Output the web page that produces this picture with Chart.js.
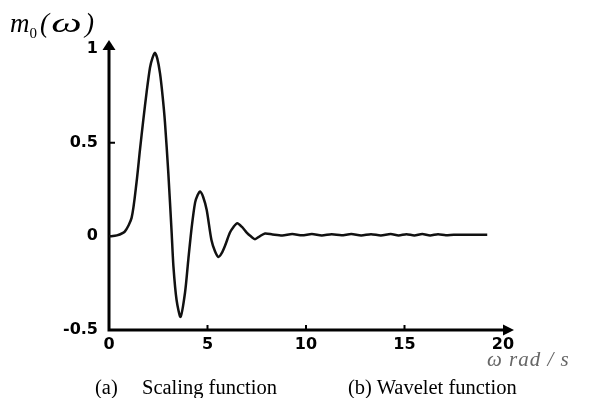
<!DOCTYPE html>
<html>
<head>
<meta charset="utf-8">
<script src="https://cdn.jsdelivr.net/npm/chart.js@4"></script>
<style>
  html, body { margin: 0; padding: 0; background: #fff; overflow: hidden; }
  #wrap { position: relative; width: 600px; height: 398px; overflow: hidden; }
  .lbl { position: absolute; white-space: nowrap; font-family: "Liberation Serif", "Times New Roman", serif; color: #000; }
  #ylab { left: 10px; top: 8px; font-size: 27px; font-style: italic; }
  #ylab sub { font-size: 15px; font-style: normal; margin-right: 3px; }
  #ylab .w { display: inline-block; transform: scaleX(1.6); margin: 0 9px 0 8px; }
  #xlab { left: 487px; top: 347px; font-size: 21px; font-style: italic; color: #666; letter-spacing: 1px; }
  .cap { top: 376px; font-size: 20.5px; }
</style>
</head>
<body>
<div id="wrap">
  <canvas id="waveChart"></canvas>
  <div class="lbl" id="ylab">m<sub>0</sub>(<span class="w">ω</span>)</div>
  <div class="lbl" id="xlab">ω rad / s</div>
  <div class="lbl cap" style="left:95px">(a)</div>
  <div class="lbl cap" style="left:142px">Scaling function</div>
  <div class="lbl cap" style="left:348px">(b) Wavelet function</div>
</div>
<script>
// values
const omega = [0, 0.4, 0.8, 1.15, 1.4, 1.57, 1.74, 1.91, 2.08, 2.2, 2.33, 2.45, 2.59, 2.72, 2.84, 3.01,
  3.18, 3.27, 3.43, 3.63, 3.86, 4.03, 4.2, 4.37, 4.5, 4.62, 4.78, 4.96, 5.2, 5.38, 5.55, 5.72, 5.89,
  6.14, 6.32, 6.51, 6.75, 6.99, 7.2, 7.41, 7.65, 7.92, 8.3, 8.8, 9.3, 9.8, 10.3, 10.8, 11.3, 11.8,
  12.3, 12.8, 13.3, 13.8, 14.3, 14.7, 15.1, 15.5, 15.9, 16.3, 16.7, 17.1, 17.5, 18.0, 18.6, 19.2];
const m0 = [0, 0.005, 0.025, 0.1, 0.29, 0.46, 0.62, 0.77, 0.9, 0.95, 0.98, 0.95, 0.87, 0.75, 0.61, 0.34,
  0.02, -0.16, -0.34, -0.43, -0.3, -0.12, 0.05, 0.18, 0.22, 0.24, 0.21, 0.14, -0.02, -0.08, -0.11, -0.09, -0.05,
  0.02, 0.05, 0.07, 0.05, 0.02, 0.0, -0.015, 0.0, 0.015, 0.01, 0.005, 0.012, 0.006, 0.012, 0.005, 0.011, 0.006,
  0.012, 0.005, 0.011, 0.005, 0.012, 0.005, 0.011, 0.005, 0.012, 0.005, 0.011, 0.006, 0.009, 0.008, 0.008, 0.008];
const xTicks = [0, 5, 10, 15, 20];
const yTicks = [-0.5, 0, 0.5, 1];

const points = omega.map((w, i) => ({ x: w, y: m0[i] }));

// axes drawn by hand so they can carry arrow heads
const arrowAxes = {
  id: "arrowAxes",
  beforeDatasetsDraw(chart) {
    const c = chart.ctx;
    const xs = chart.scales.x, ys = chart.scales.y;
    const x0 = xs.getPixelForValue(0);
    const yb = ys.getPixelForValue(-0.5);
    c.save();
    c.strokeStyle = "#000";
    c.fillStyle = "#000";
    c.lineWidth = 3;
    c.beginPath();
    c.moveTo(x0, yb + 1.5);
    c.lineTo(x0, 46);
    c.moveTo(x0 - 1.5, yb);
    c.lineTo(506, yb);
    c.stroke();
    // arrow heads
    c.beginPath();
    c.moveTo(x0, 40);
    c.lineTo(x0 - 6.5, 50);
    c.lineTo(x0 + 6.5, 50);
    c.closePath();
    c.fill();
    c.beginPath();
    c.moveTo(514, yb);
    c.lineTo(503, yb - 5.5);
    c.lineTo(503, yb + 5.5);
    c.closePath();
    c.fill();
    // small tick marks
    c.lineWidth = 2;
    c.beginPath();
    [5, 10, 15].forEach((v) => {
      const px = xs.getPixelForValue(v);
      c.moveTo(px, yb);
      c.lineTo(px, yb - 5);
    });
    const py = ys.getPixelForValue(0.5);
    c.moveTo(x0, py);
    c.lineTo(x0 + 6, py);
    c.stroke();
    c.restore();
  },
};

const tickFont = { family: "DejaVu Sans", size: 16, weight: "bold" };

new Chart(document.getElementById("waveChart"), {
  type: "line",
  data: {
    datasets: [
      {
        data: points,
        borderColor: "#111",
        borderWidth: 2.5,
        pointRadius: 0,
        tension: 0.25,
        fill: false,
      },
    ],
  },
  options: {
    responsive: true,
    maintainAspectRatio: false,
    animation: false,
    layout: { padding: { left: 0, top: 49, right: 97, bottom: 0 } },
    plugins: { legend: { display: false }, tooltip: { enabled: false } },
    scales: {
      x: {
        type: "linear",
        min: 0,
        max: 20,
        afterFit: (s) => { s.height = 68; },
        afterBuildTicks: (s) => { s.ticks = xTicks.map((v) => ({ value: v })); },
        grid: { display: false, drawTicks: false },
        border: { display: false },
        ticks: { color: "#000", font: tickFont, padding: 5, maxRotation: 0, callback: (v) => String(v) },
      },
      y: {
        min: -0.5,
        max: 1,
        afterFit: (s) => { s.width = 109; },
        afterBuildTicks: (s) => { s.ticks = yTicks.map((v) => ({ value: v })); },
        grid: { display: false, drawTicks: false },
        border: { display: false },
        ticks: { color: "#000", font: tickFont, padding: 11, callback: (v) => String(v) },
      },
    },
  },
  plugins: [arrowAxes],
});
</script>
</body>
</html>
